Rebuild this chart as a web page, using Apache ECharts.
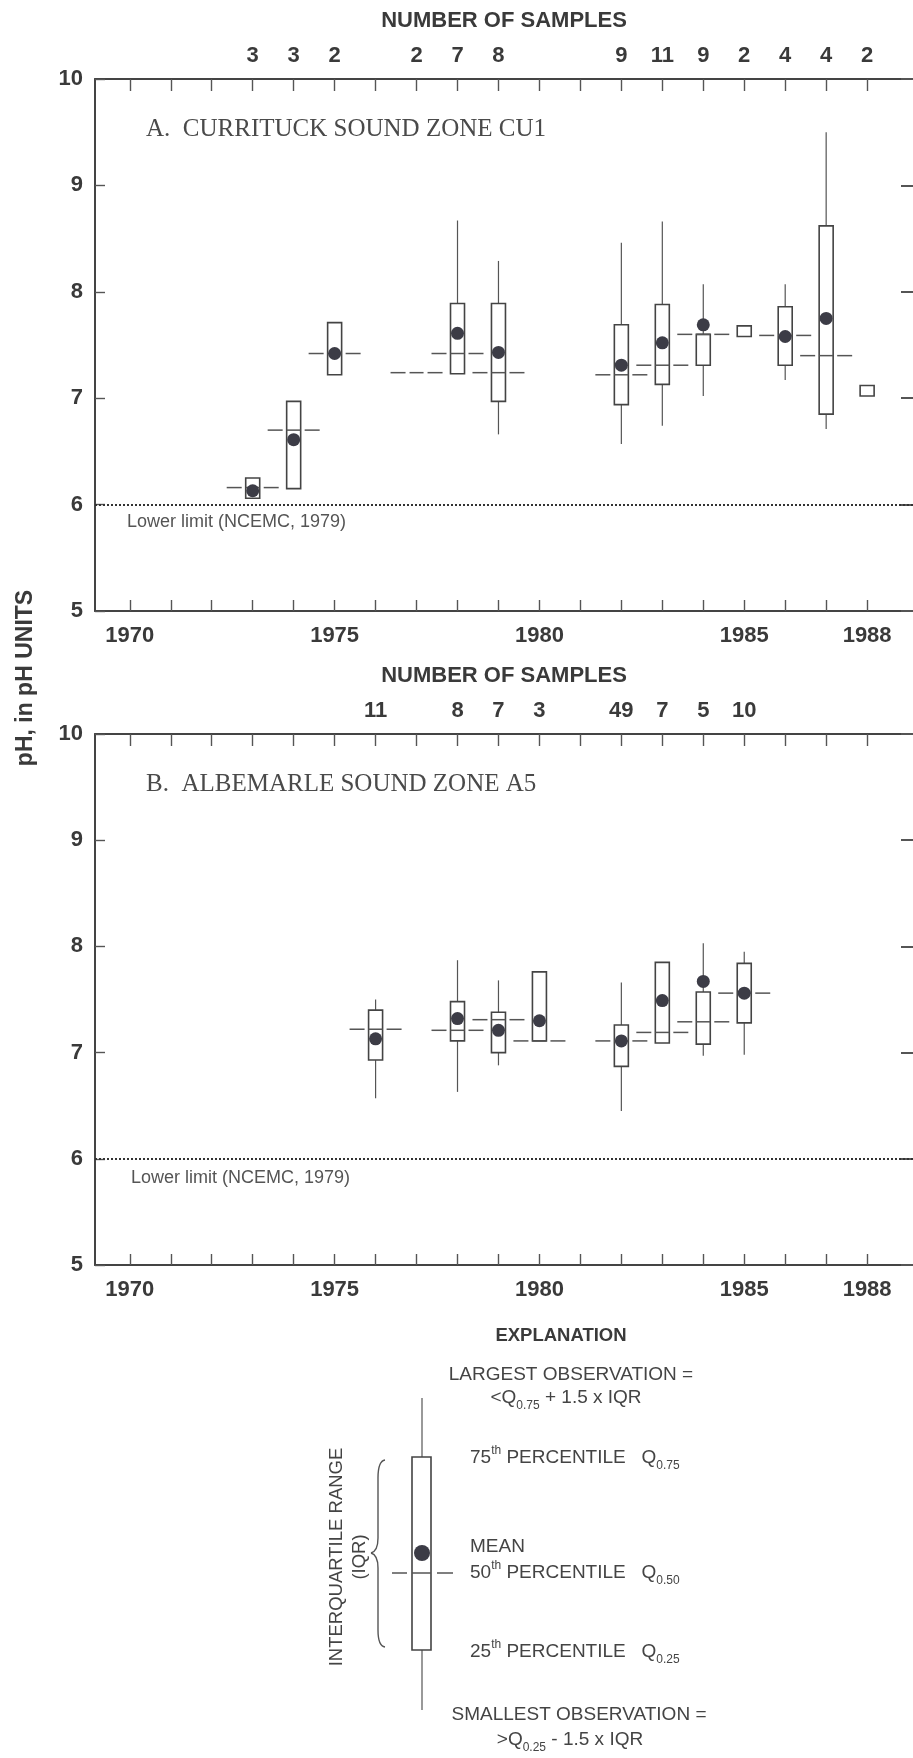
<!DOCTYPE html>
<html>
<head>
<meta charset="utf-8">
<title>pH box plots - Currituck Sound CU1 and Albemarle Sound A5</title>
<script src="https://cdn.jsdelivr.net/npm/echarts@6.0.0/dist/echarts.min.js"></script>
<style>
  html, body { margin: 0; padding: 0; background: #fff; }
  #chart { width: 913px; height: 1758px; }
</style>
</head>
<body>
<div id="chart"></div>
<script>
// A. Currituck Sound zone CU1
const yearsA = [1973, 1974, 1975, 1977, 1978, 1979, 1982, 1983, 1984, 1985, 1986, 1987, 1988]
const countsA = [3, 3, 2, 2, 7, 8, 9, 11, 9, 2, 4, 4, 2]
const lowA = [null, null, null, null, null, 6.66, 6.57, 6.74, 7.02, null, 7.17, 6.71, null]
const q1A = [6.06, 6.15, 7.22, null, 7.23, 6.97, 6.94, 7.13, 7.31, 7.58, 7.31, 6.85, 7.02]
const medianA = [6.16, 6.70, 7.42, 7.24, 7.42, 7.24, 7.22, 7.31, 7.60, null, 7.59, 7.40, null]
const q3A = [6.25, 6.97, 7.71, null, 7.89, 7.89, 7.69, 7.88, 7.60, 7.68, 7.86, 8.62, 7.12]
const highA = [null, null, null, null, 8.67, 8.29, 8.46, 8.66, 8.07, null, 8.07, 9.50, null]
const meanA = [6.13, 6.61, 7.42, null, 7.61, 7.43, 7.31, 7.52, 7.69, null, 7.58, 7.75, null]

// B. Albemarle Sound zone A5
const yearsB = [1976, 1978, 1979, 1980, 1982, 1983, 1984, 1985]
const countsB = [11, 8, 7, 3, 49, 7, 5, 10]
const lowB = [6.57, 6.63, 6.88, null, 6.45, null, 6.97, 6.98]
const q1B = [6.93, 7.11, 7.00, 7.11, 6.87, 7.09, 7.08, 7.28]
const medianB = [7.22, 7.21, 7.31, 7.11, 7.11, 7.19, 7.29, 7.56]
const q3B = [7.40, 7.48, 7.38, 7.76, 7.26, 7.85, 7.57, 7.84]
const highB = [7.50, 7.87, 7.68, null, 7.66, null, 8.03, 7.95]
const meanB = [7.13, 7.32, 7.21, 7.30, 7.11, 7.49, 7.67, 7.56]

const tickYears = [1970, 1971, 1972, 1973, 1974, 1975, 1976, 1977, 1978, 1979,
  1980, 1981, 1982, 1983, 1984, 1985, 1986, 1987, 1988]
const labelYears = [1970, 1975, 1980, 1985, 1988]
const lowerLimit = 6

const SANS = '"Liberation Sans", Arial, sans-serif'
const SERIF = '"Liberation Serif", "Times New Roman", serif'
const INK = '#3a3a3a'
const X_MIN = 1969.15
const X_MAX = 1989.12

const chart = echarts.init(document.getElementById('chart'), null, { renderer: 'canvas' })

const clean = v => (v == null ? '-' : v)

const boxRows = (years, low, q1, med, q3, high) =>
  years.map((y, i) => [y, clean(low[i]), clean(q1[i]), clean(med[i]), clean(q3[i]), clean(high[i])])

const meanRows = (years, mean) =>
  years.map((y, i) => [y, mean[i]]).filter(d => d[1] != null)

const renderBox = (params, api) => {
  const x = api.value(0)
  const [low, q1, med, q3, high] = [1, 2, 3, 4, 5].map(d => api.value(d))
  const px = api.coord([x, 7])[0]
  const yOf = v => api.coord([x, v])[1]
  const half = 7
  const seg = (x1, y1, x2, y2, w) => ({
    type: 'line',
    shape: { x1, y1, x2, y2 },
    style: { stroke: '#555', lineWidth: w },
  })
  const children = []
  if (!isNaN(high) && !isNaN(q3)) children.push(seg(px, yOf(high), px, yOf(q3), 1.2))
  if (!isNaN(low) && !isNaN(q1)) children.push(seg(px, yOf(q1), px, yOf(low), 1.2))
  if (!isNaN(q1) && !isNaN(q3)) {
    children.push({
      type: 'rect',
      shape: { x: px - half, y: yOf(q3), width: half * 2, height: yOf(q1) - yOf(q3) },
      style: { fill: '#fff', stroke: '#444', lineWidth: 1.6 },
    })
  }
  if (!isNaN(med)) {
    const ym = yOf(med)
    children.push(
      seg(px - 26, ym, px - 11, ym, 1.5),
      seg(px - half, ym, px + half, ym, 1.5),
      seg(px + 11, ym, px + 26, ym, 1.5),
    )
  }
  return { type: 'group', children }
}

const axisLine = { lineStyle: { color: '#444', width: 2 } }
const tickStyle = { color: '#555', width: 1.4 }
const bigLabel = { fontFamily: SANS, fontSize: 22, fontWeight: 'bold', color: INK }

const makeXAxes = (grid, years, counts) => [
  {
    type: 'value', gridIndex: grid, min: X_MIN, max: X_MAX, position: 'bottom',
    axisLine,
    axisTick: { inside: true, length: 11, customValues: tickYears, lineStyle: tickStyle },
    axisLabel: { ...bigLabel, customValues: labelYears, margin: 14, formatter: v => String(Math.round(v)) },
    splitLine: { show: false },
  },
  {
    type: 'value', gridIndex: grid, min: X_MIN, max: X_MAX, position: 'top',
    axisLine,
    axisTick: { inside: true, length: 12, customValues: tickYears, lineStyle: tickStyle },
    axisLabel: {
      ...bigLabel, customValues: years, margin: 12,
      formatter: v => String(counts[years.indexOf(Math.round(v))]),
    },
    splitLine: { show: false },
    name: 'NUMBER OF SAMPLES', nameLocation: 'middle', nameGap: 47,
    nameTextStyle: { ...bigLabel },
  },
]

const makeYAxes = grid => [
  {
    type: 'value', gridIndex: grid, min: 5, max: 10, interval: 1, position: 'left',
    axisLine: { show: true, ...axisLine },
    axisTick: { inside: true, length: 10, lineStyle: tickStyle },
    axisLabel: { ...bigLabel, margin: 12 },
    splitLine: { show: false },
  },
  {
    type: 'value', gridIndex: grid, min: 5, max: 10, interval: 1, position: 'right',
    axisLine: { show: false },
    axisTick: { show: true, inside: true, length: 12, lineStyle: { color: '#555', width: 2 } },
    axisLabel: { show: false },
    splitLine: { show: false },
  },
]

const limitLine = {
  silent: true,
  symbol: ['none', 'none'],
  label: { show: false },
  lineStyle: { color: '#333', type: [2, 2], width: 2.2 },
  data: [{ yAxis: lowerLimit }],
}

const makeSeries = (xi, yi, years, low, q1, med, q3, high, mean) => [
  {
    type: 'custom',
    xAxisIndex: xi, yAxisIndex: yi,
    renderItem: renderBox,
    encode: { x: 0, y: [1, 2, 3, 4, 5] },
    data: boxRows(years, low, q1, med, q3, high),
    z: 3,
  },
  {
    type: 'scatter',
    xAxisIndex: xi, yAxisIndex: yi,
    symbol: 'circle', symbolSize: 13,
    itemStyle: { color: '#3c3c46', opacity: 1 },
    data: meanRows(years, mean),
    markLine: limitLine,
    z: 4,
  },
]

const smallText = (x, y, text, extra) => ({
  type: 'text', x, y,
  style: {
    text, fill: '#444', fontFamily: SANS, fontSize: 19,
    align: 'center', verticalAlign: 'middle', ...extra,
  },
})

const richScript = {
  s: { fontFamily: SANS, fontSize: 12, verticalAlign: 'top', fill: '#444' },
  b: { fontFamily: SANS, fontSize: 12, verticalAlign: 'bottom', fill: '#444' },
}

const richText = (x, y, text, align) => ({
  type: 'text', x, y,
  style: {
    text, fill: '#444', fontFamily: SANS, fontSize: 19, lineHeight: 27,
    align: align || 'left', verticalAlign: 'middle', rich: richScript,
  },
})

const stroke = w => ({ fill: 'none', stroke: '#555', lineWidth: w })

// curly brace beside the legend box
const brace = {
  type: 'group',
  children: [
    { type: 'bezierCurve', shape: { x1: 385, y1: 1460, cpx1: 378, cpy1: 1461, x2: 378, y2: 1478 }, style: stroke(1.4) },
    { type: 'line', shape: { x1: 378, y1: 1478, x2: 378, y2: 1538 }, style: stroke(1.4) },
    { type: 'bezierCurve', shape: { x1: 378, y1: 1538, cpx1: 378, cpy1: 1551, x2: 371, y2: 1553 }, style: stroke(1.4) },
    { type: 'bezierCurve', shape: { x1: 371, y1: 1553, cpx1: 378, cpy1: 1555, x2: 378, y2: 1568 }, style: stroke(1.4) },
    { type: 'line', shape: { x1: 378, y1: 1568, x2: 378, y2: 1630 }, style: stroke(1.4) },
    { type: 'bezierCurve', shape: { x1: 378, y1: 1630, cpx1: 378, cpy1: 1646, x2: 385, y2: 1647 }, style: stroke(1.4) },
  ],
}

const legend = [
  smallText(561, 1336, 'EXPLANATION', { fontWeight: 'bold', fontSize: 18.5, fill: INK }),
  smallText(571, 1375, 'LARGEST OBSERVATION ='),
  richText(566, 1398, '<Q{b|0.75} + 1.5 x IQR', 'center'),
  richText(470, 1458, '75{s|th} PERCENTILE   Q{b|0.75}'),
  smallText(470, 1547, 'MEAN', { align: 'left' }),
  richText(470, 1573, '50{s|th} PERCENTILE   Q{b|0.50}'),
  richText(470, 1652, '25{s|th} PERCENTILE   Q{b|0.25}'),
  smallText(579, 1715, 'SMALLEST OBSERVATION ='),
  richText(570, 1740, '>Q{b|0.25} - 1.5 x IQR', 'center'),
  { type: 'line', shape: { x1: 422, y1: 1398, x2: 422, y2: 1457 }, style: stroke(1.2) },
  { type: 'line', shape: { x1: 422, y1: 1650, x2: 422, y2: 1710 }, style: stroke(1.2) },
  { type: 'rect', shape: { x: 412, y: 1457, width: 19, height: 193 }, style: { fill: '#fff', stroke: '#444', lineWidth: 1.6 } },
  { type: 'line', shape: { x1: 392, y1: 1573, x2: 407, y2: 1573 }, style: stroke(1.5) },
  { type: 'line', shape: { x1: 412, y1: 1573, x2: 431, y2: 1573 }, style: stroke(1.5) },
  { type: 'line', shape: { x1: 437, y1: 1573, x2: 453, y2: 1573 }, style: stroke(1.5) },
  { type: 'circle', shape: { cx: 422, cy: 1553, r: 8 }, style: { fill: '#3c3c46' } },
  brace,
  {
    type: 'text', x: 337, y: 1557, rotation: Math.PI / 2,
    style: { text: 'INTERQUARTILE RANGE', fill: '#444', fontFamily: SANS, fontSize: 18.5, align: 'center', verticalAlign: 'middle' },
  },
  {
    type: 'text', x: 360, y: 1557, rotation: Math.PI / 2,
    style: { text: '(IQR)', fill: '#444', fontFamily: SANS, fontSize: 18.5, align: 'center', verticalAlign: 'middle' },
  },
]

const option = {
  backgroundColor: '#fff',
  animation: false,
  title: [
    {
      text: 'A.  CURRITUCK SOUND ZONE CU1', left: 146, top: 117, padding: 0,
      textStyle: { fontFamily: SERIF, fontSize: 25, fontWeight: 'normal', color: '#4a4a4a' },
    },
    {
      text: 'B.  ALBEMARLE SOUND ZONE A5', left: 146, top: 772, padding: 0,
      textStyle: { fontFamily: SERIF, fontSize: 25, fontWeight: 'normal', color: '#4a4a4a' },
    },
  ],
  grid: [
    { left: 95, top: 79, width: 820, height: 532 },
    { left: 95, top: 734, width: 820, height: 531 },
  ],
  xAxis: [...makeXAxes(0, yearsA, countsA), ...makeXAxes(1, yearsB, countsB)],
  yAxis: [...makeYAxes(0), ...makeYAxes(1)],
  series: [
    ...makeSeries(0, 0, yearsA, lowA, q1A, medianA, q3A, highA, meanA),
    ...makeSeries(2, 2, yearsB, lowB, q1B, medianB, q3B, highB, meanB),
  ],
  graphic: [
    {
      type: 'text', x: 26, y: 678, rotation: Math.PI / 2,
      style: { text: 'pH, in pH UNITS', fill: INK, fontFamily: SANS, fontSize: 23, fontWeight: 'bold', align: 'center', verticalAlign: 'middle' },
    },
    smallText(127, 522, 'Lower limit (NCEMC, 1979)', { align: 'left', fontSize: 18, fill: '#555' }),
    smallText(131, 1178, 'Lower limit (NCEMC, 1979)', { align: 'left', fontSize: 18, fill: '#555' }),
    ...legend,
  ],
}

chart.setOption(option)
</script>
</body>
</html>
